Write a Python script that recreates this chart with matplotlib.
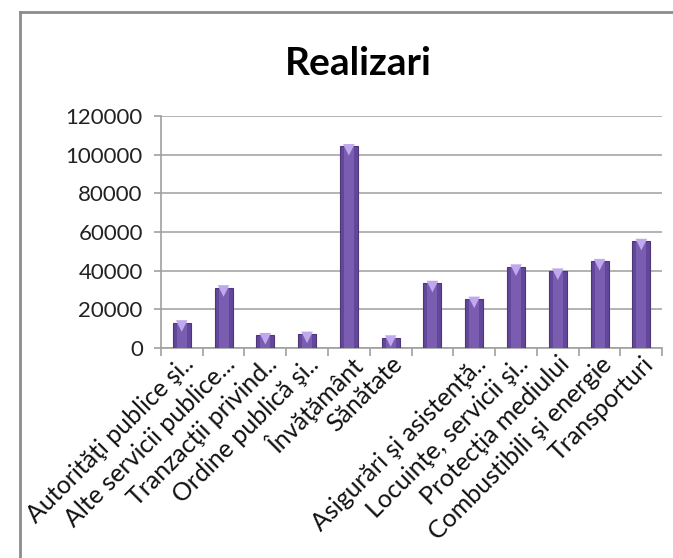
import numpy as np
import matplotlib
matplotlib.use("Agg")
import matplotlib.pyplot as plt
from matplotlib.lines import Line2D
from matplotlib.transforms import offset_copy, ScaledTranslation

plt.rcParams["font.family"] = ["Lato", "DejaVu Sans"]

# categories (7th label, "Cultură, recreere şi religie", is not drawn in the original)
labels = [
    "Autorităţi publice şi..",
    "Alte servicii publice...",
    "Tranzacţii privind..",
    "Ordine publică şi..",
    "Învăţământ",
    "Sănătate",
    "",
    "Asigurări şi asistenţă..",
    "Locuinţe, servicii şi..",
    "Protecţia mediului",
    "Combustibili şi energie",
    "Transporturi",
]
values = [13200, 31300, 6600, 7300, 104300, 5400, 33600, 25400, 42100, 40000, 44900, 55300]
yticks = [0, 20000, 40000, 60000, 80000, 100000, 120000]

fig = plt.figure(figsize=(6.73, 5.58), dpi=100)
ax = fig.add_axes([0.239, 0.3763, 0.745, 0.4158])

x = np.arange(len(values))
ax.bar(x, values, width=0.43, color="#62479a", edgecolor="#4d3679", linewidth=0.8, zorder=3)
ax.bar(x, values, width=0.24, color="#7a5db0", linewidth=0, zorder=4)
# light bevel at top of each bar
top = offset_copy(ax.transData, fig=fig, x=0, y=-3.5, units="dots")
ax.scatter(x, values, marker="v", s=70, color="#c0a8ee", edgecolors="none", zorder=5, transform=top)

ax.set_xlim(-0.5, len(values) - 0.5)
ax.set_ylim(0, 120000)
ax.set_yticks(yticks)
ax.set_yticklabels([str(v) for v in yticks], fontsize=16, color="#222222")
ax.yaxis.grid(True, color="#a6a6a6", linewidth=1.2)
ax.set_axisbelow(True)

ax.set_xticks(x)
ax.set_xticklabels(labels, rotation=45, ha="right", va="top", rotation_mode="anchor",
                   fontsize=18, color="#111111")
shift = ScaledTranslation(13 / 100, 0, fig.dpi_scale_trans)
for t in ax.get_xticklabels():
    t.set_transform(t.get_transform() + shift)
ax.set_xticks(np.arange(-0.5, len(values)), minor=True)
ax.tick_params(axis="x", which="major", length=0, pad=3)
ax.tick_params(axis="x", which="minor", length=6, color="#a0a0a0", width=1.2, direction="out")
ax.tick_params(axis="y", length=5, color="#a0a0a0", width=1.2, pad=8)

for s in ["top", "right"]:
    ax.spines[s].set_visible(False)
for s in ["left", "bottom"]:
    ax.spines[s].set_color("#a0a0a0")
    ax.spines[s].set_linewidth(1.2)

fig.text(0.532, 0.865, "Realizari", fontsize=28, fontweight="bold", ha="center", va="baseline")

# chart area border
fig.add_artist(Line2D([20 / 673, 20 / 673], [0, 1 - 12 / 558], transform=fig.transFigure,
                      color="#8c8c8c", linewidth=2))
fig.add_artist(Line2D([20 / 673, 1], [1 - 12 / 558, 1 - 12 / 558], transform=fig.transFigure,
                      color="#8c8c8c", linewidth=2))

fig.savefig("out.png", dpi=100)
